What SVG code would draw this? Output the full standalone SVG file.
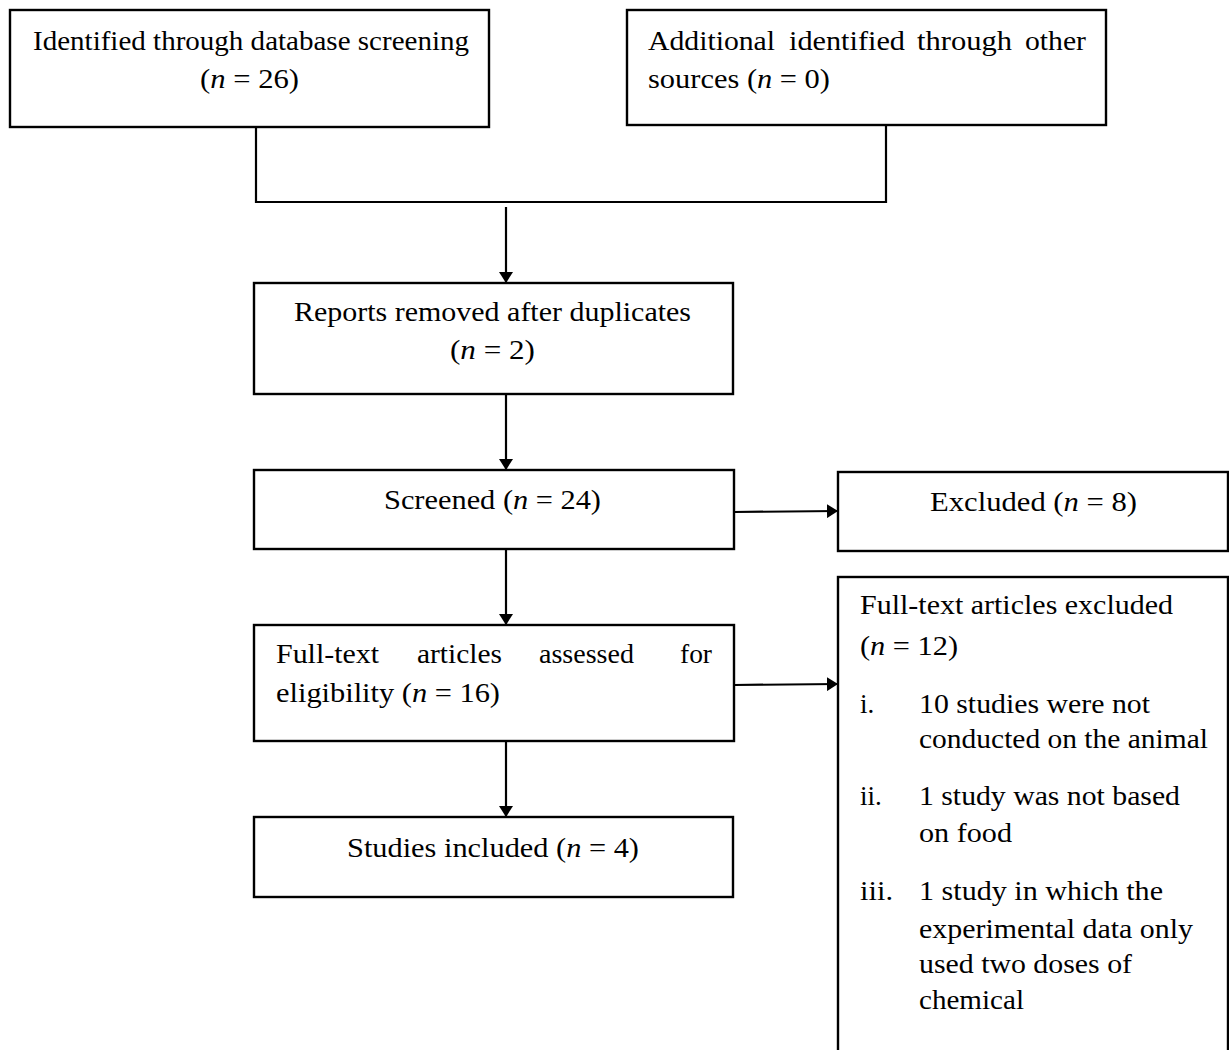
<svg xmlns="http://www.w3.org/2000/svg" width="1229" height="1050" viewBox="0 0 1229 1050">
<style>
.box{fill:#fff;stroke:#000;stroke-width:2.4}
.t{font-family:"Liberation Serif","Times New Roman",serif;font-size:28px;fill:#000}
.r{font-family:"Liberation Serif","Times New Roman",serif;font-size:27px;fill:#000}
.ln{fill:none;stroke:#000;stroke-width:2.2}
</style>
<defs>
<marker id="ah" viewBox="0 0 11 14" refX="11" refY="7" markerWidth="11" markerHeight="14" orient="auto" markerUnits="userSpaceOnUse">
<path d="M0,0 L11,7 L0,14 z" fill="#000"/>
</marker>
</defs>
<rect width="1229" height="1050" fill="#fff"/>
<g id="connectors">
<polyline class="ln" points="256,127 256,202 886,202 886,125"/>
<line class="ln" x1="506" y1="207" x2="506" y2="283" marker-end="url(#ah)"/>
<line class="ln" x1="506" y1="394" x2="506" y2="470" marker-end="url(#ah)"/>
<line class="ln" x1="734" y1="512" x2="838" y2="511" marker-end="url(#ah)"/>
<line class="ln" x1="506" y1="549" x2="506" y2="625" marker-end="url(#ah)"/>
<line class="ln" x1="734" y1="685" x2="838" y2="684" marker-end="url(#ah)"/>
<line class="ln" x1="506" y1="741" x2="506" y2="817" marker-end="url(#ah)"/>
</g>
<g id="n1">
<rect class="box" x="10" y="10" width="479" height="117"/>
<text class="t" x="33" y="50" textLength="436" lengthAdjust="spacingAndGlyphs">Identified through database screening</text>
<text class="t" x="200" y="88" textLength="99" lengthAdjust="spacingAndGlyphs">(<tspan font-style="italic">n</tspan> = 26)</text>
</g>
<g id="n2">
<rect class="box" x="627" y="10" width="479" height="115"/>
<text class="t" x="648" y="50" textLength="127" lengthAdjust="spacingAndGlyphs">Additional</text>
<text class="t" x="789" y="50" textLength="116" lengthAdjust="spacingAndGlyphs">identified</text>
<text class="t" x="917" y="50" textLength="95" lengthAdjust="spacingAndGlyphs">through</text>
<text class="t" x="1025" y="50" textLength="61" lengthAdjust="spacingAndGlyphs">other</text>
<text class="t" x="648" y="88" textLength="182" lengthAdjust="spacingAndGlyphs">sources (<tspan font-style="italic">n</tspan> = 0)</text>
</g>
<g id="n3">
<rect class="box" x="254" y="283" width="479" height="111"/>
<text class="t" x="294" y="321" textLength="397" lengthAdjust="spacingAndGlyphs">Reports removed after duplicates</text>
<text class="t" x="450" y="359" textLength="85" lengthAdjust="spacingAndGlyphs">(<tspan font-style="italic">n</tspan> = 2)</text>
</g>
<g id="n4">
<rect class="box" x="254" y="470" width="480" height="79"/>
<text class="t" x="384" y="509" textLength="217" lengthAdjust="spacingAndGlyphs">Screened (<tspan font-style="italic">n</tspan> = 24)</text>
</g>
<g id="n5">
<rect class="box" x="838" y="472" width="390" height="79"/>
<text class="r" x="930" y="511" textLength="207" lengthAdjust="spacingAndGlyphs">Excluded (<tspan font-style="italic">n</tspan> = 8)</text>
</g>
<g id="n6">
<rect class="box" x="254" y="625" width="480" height="116"/>
<text class="t" x="276" y="663" textLength="103" lengthAdjust="spacingAndGlyphs">Full-text</text>
<text class="t" x="417" y="663" textLength="85" lengthAdjust="spacingAndGlyphs">articles</text>
<text class="t" x="539" y="663" textLength="95" lengthAdjust="spacingAndGlyphs">assessed</text>
<text class="t" x="680" y="663" textLength="32" lengthAdjust="spacingAndGlyphs">for</text>
<text class="t" x="276" y="702" textLength="224" lengthAdjust="spacingAndGlyphs">eligibility (<tspan font-style="italic">n</tspan> = 16)</text>
</g>
<g id="n7">
<rect class="box" x="838" y="577" width="390" height="490"/>
<text class="r" x="860" y="614" textLength="313" lengthAdjust="spacingAndGlyphs">Full-text articles excluded</text>
<text class="r" x="860" y="655" textLength="98" lengthAdjust="spacingAndGlyphs">(<tspan font-style="italic">n</tspan> = 12)</text>
<text class="r" x="860" y="713">i.</text>
<text class="r" x="919" y="713" textLength="231" lengthAdjust="spacingAndGlyphs">10 studies were not</text>
<text class="r" x="919" y="748" textLength="289" lengthAdjust="spacingAndGlyphs">conducted on the animal</text>
<text class="r" x="860" y="805">ii.</text>
<text class="r" x="919" y="805" textLength="261" lengthAdjust="spacingAndGlyphs">1 study was not based</text>
<text class="r" x="919" y="842" textLength="93" lengthAdjust="spacingAndGlyphs">on food</text>
<text class="r" x="860" y="900" textLength="33" lengthAdjust="spacingAndGlyphs">iii.</text>
<text class="r" x="919" y="900" textLength="244" lengthAdjust="spacingAndGlyphs">1 study in which the</text>
<text class="r" x="919" y="938" textLength="274" lengthAdjust="spacingAndGlyphs">experimental data only</text>
<text class="r" x="919" y="973" textLength="213" lengthAdjust="spacingAndGlyphs">used two doses of</text>
<text class="r" x="919" y="1009" textLength="105" lengthAdjust="spacingAndGlyphs">chemical</text>
</g>
<g id="n8">
<rect class="box" x="254" y="817" width="479" height="80"/>
<text class="t" x="347" y="857" textLength="292" lengthAdjust="spacingAndGlyphs">Studies included (<tspan font-style="italic">n</tspan> = 4)</text>
</g>
</svg>
